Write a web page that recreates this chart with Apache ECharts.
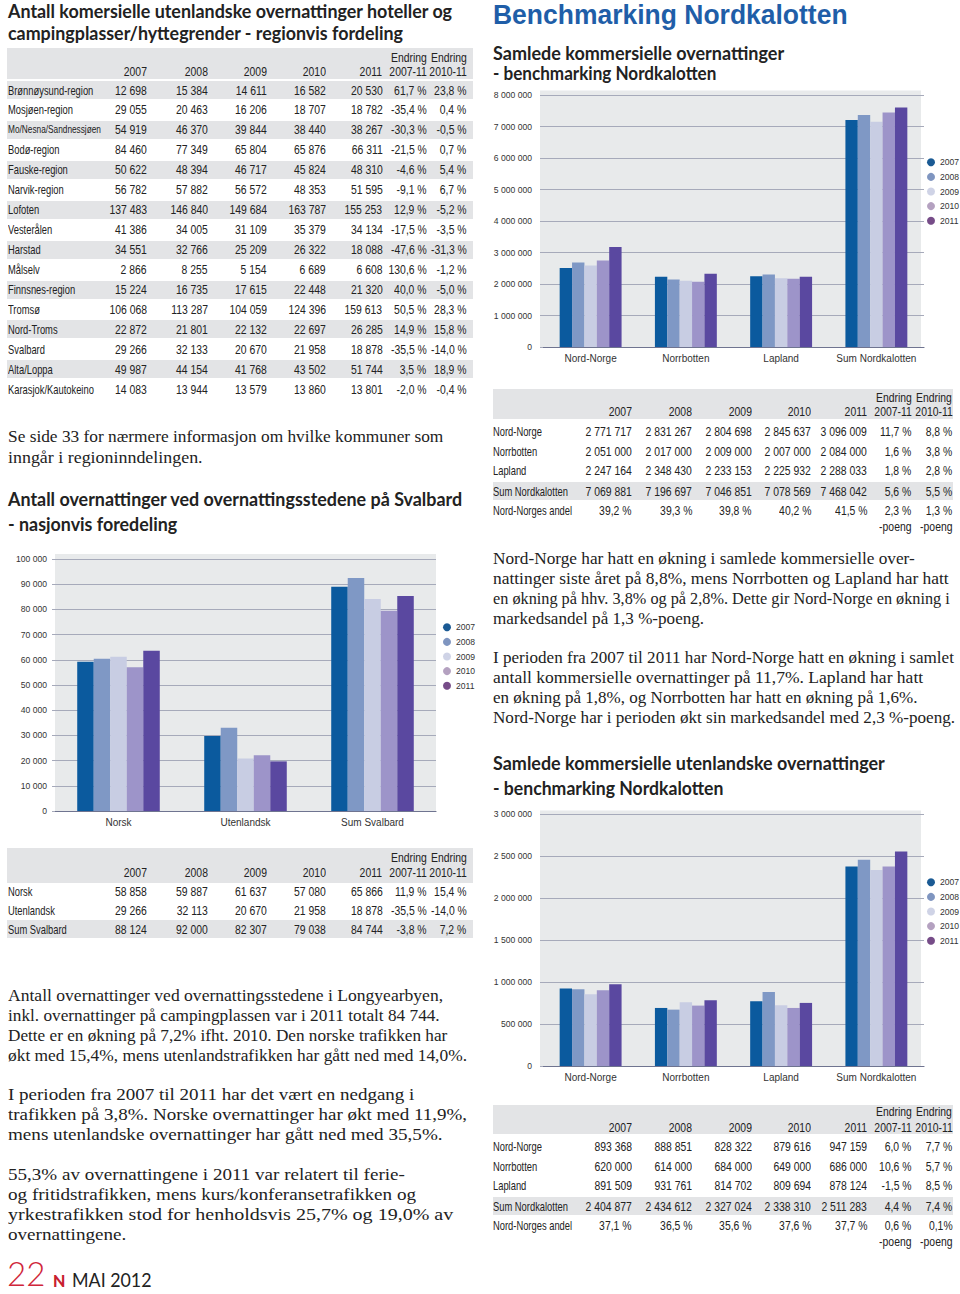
<!DOCTYPE html>
<html><head><meta charset="utf-8">
<script src="https://cdn.jsdelivr.net/npm/echarts@6/dist/echarts.min.js"></script>
<style>
body{margin:0;background:#fff;}
#page{position:relative;width:960px;height:1294px;overflow:hidden;background:#fff}
#chart{position:absolute;left:0;top:0;width:960px;height:1294px}
#txt{position:absolute;left:0;top:0;width:960px;height:1294px}
.t{position:absolute;white-space:nowrap;color:#222}
.t span{display:inline-block;white-space:nowrap}
.cond{font-family:'Liberation Sans',Arial,sans-serif}
.head{font-family:'Lato','Liberation Sans',sans-serif;font-weight:bold}
.big{font-family:'Liberation Sans',Arial,sans-serif;font-weight:bold}
.serif{font-family:'Liberation Serif','DejaVu Serif',serif}
.band{position:absolute;background:#e3e4e6}
</style></head>
<body>
<div id="page"><div id="chart"></div><div id="txt"></div></div>
<script>
// ---------- chart data ----------
const years = ['2007','2008','2009','2010','2011'];

const svalCats = ['Norsk','Utenlandsk','Sum Svalbard'];
const svalBars2007 = [59200, 29800, 89000];
const svalBars2008 = [60400, 33000, 92500];
const svalBars2009 = [61200, 20800, 84100];
const svalBars2010 = [57000, 22100, 79500];
const svalBars2011 = [63600, 19700, 85300];

const nordCats = ['Nord-Norge','Norrbotten','Lapland','Sum Nordkalotten'];
const totBars2007 = [2504000, 2228000, 2249000, 7204000];
const totBars2008 = [2684000, 2143000, 2302000, 7363000];
const totBars2009 = [2589000, 2101000, 2186000, 7151000];
const totBars2010 = [2748000, 2069000, 2164000, 7448000];
const totBars2011 = [3172000, 2324000, 2228000, 7607000];

const utlBars2007 = [922000, 691000, 771000, 2376000];
const utlBars2008 = [914000, 671000, 882000, 2455000];
const utlBars2009 = [854000, 759000, 723000, 2332000];
const utlBars2010 = [902000, 719000, 691000, 2376000];
const utlBars2011 = [973000, 783000, 751000, 2555000];

// ---------- table data ----------
const regions = ['Brønnøysund-region','Mosjøen-region','Mo/Nesna/Sandnessjøen','Bodø-region','Fauske-region','Narvik-region','Lofoten','Vesterålen','Harstad','Målselv','Finnsnes-region','Tromsø','Nord-Troms','Svalbard','Alta/Loppa','Karasjok/Kautokeino'];
const reg2007 = [12698,29055,54919,84460,50622,56782,137483,41386,34551,2866,15224,106068,22872,29266,49987,14083];
const reg2008 = [15384,20463,46370,77349,48394,57882,146840,34005,32766,8255,16735,113287,21801,32133,44154,13944];
const reg2009 = [14611,16206,39844,65804,46717,56572,149684,31109,25209,5154,17615,104059,22132,20670,41768,13579];
const reg2010 = [16582,18707,38440,65876,45824,48353,163787,35379,26322,6689,22448,124396,22697,21958,43502,13860];
const reg2011 = [20530,18782,38267,66311,48310,51595,155253,34134,18088,6608,21320,159613,26285,18878,51744,13801];
const regChg0711 = [61.7,-35.4,-30.3,-21.5,-4.6,-9.1,12.9,-17.5,-47.6,130.6,40.0,50.5,14.9,-35.5,3.5,-2.0];
const regChg1011 = [23.8,0.4,-0.5,0.7,5.4,6.7,-5.2,-3.5,-31.3,-1.2,-5.0,28.3,15.8,-14.0,18.9,-0.4];

const svalRows = ['Norsk','Utenlandsk','Sum Svalbard'];
const sval2007 = [58858,29266,88124];
const sval2008 = [59887,32113,92000];
const sval2009 = [61637,20670,82307];
const sval2010 = [57080,21958,79038];
const sval2011 = [65866,18878,84744];
const svalChg0711 = [11.9,-35.5,-3.8];
const svalChg1011 = [15.4,-14.0,7.2];

const totRows = ['Nord-Norge','Norrbotten','Lapland','Sum Nordkalotten'];
const tot2007 = [2771717,2051000,2247164,7069881];
const tot2008 = [2831267,2017000,2348430,7196697];
const tot2009 = [2804698,2009000,2233153,7046851];
const tot2010 = [2845637,2007000,2225932,7078569];
const tot2011 = [3096009,2084000,2288033,7468042];
const totChg0711 = [11.7,1.6,1.8,5.6];
const totChg1011 = [8.8,3.8,2.8,5.5];
const totShare = ['39,2 %','39,3 %','39,8 %','40,2 %','41,5 %','2,3 %','1,3 %'];

const utlRows = ['Nord-Norge','Norrbotten','Lapland','Sum Nordkalotten'];
const utl2007 = [893368,620000,891509,2404877];
const utl2008 = [888851,614000,931761,2434612];
const utl2009 = [828322,684000,814702,2327024];
const utl2010 = [879616,649000,809694,2338310];
const utl2011 = [947159,686000,878124,2511283];
const utlChg0711 = [6.0,10.6,-1.5,4.4];
const utlChg1011 = [7.7,5.7,8.5,7.4];
const utlShare = ['37,1 %','36,5 %','35,6 %','37,6 %','37,7 %','0,6 %','0,1%'];

// ---------- helpers ----------
const fmtN = v => String(v).replace(/\B(?=(\d{3})+(?!\d))/g, ' ');
const fmtP = v => v.toFixed(1).replace('.', ',') + ' %';
const layer = document.getElementById('txt');

function put(str, x, cy, o) {
  o = o || {};
  const cls = o.cls || 'cond';
  const d = document.createElement('div');
  d.className = 't ' + cls;
  const fs = o.size || 13;
  const lh = o.lh || fs;
  let sx = o.sx != null ? o.sx : (cls === 'cond' ? 0.8 : 1);
  d.style.fontSize = fs + 'px';
  d.style.lineHeight = lh + 'px';
  d.style.top = (cy - lh / 2) + 'px';
  const s = document.createElement('span');
  s.textContent = str;
  if (o.align === 'right') {
    d.style.left = (x - 300) + 'px'; d.style.width = '300px'; d.style.textAlign = 'right';
    s.style.transformOrigin = 'right center';
  } else {
    d.style.left = x + 'px';
    s.style.transformOrigin = 'left center';
  }
  if (o.weight) d.style.fontWeight = o.weight;
  if (o.color) d.style.color = o.color;
  d.appendChild(s);
  layer.appendChild(d);
  if (o.right != null) sx = (o.right - x) / s.offsetWidth;   // fit to the reference line length
  if (sx !== 1) s.style.transform = 'scaleX(' + sx + ')';
  return s;
}
function band(x, y, w, h) {
  const d = document.createElement('div');
  d.className = 'band';
  d.style.left = x + 'px'; d.style.top = y + 'px'; d.style.width = w + 'px'; d.style.height = h + 'px';
  layer.appendChild(d);
}
function header(colR, yE, yY, bandX, bandW, bandTop, bandH) {
  band(bandX, bandTop, bandW, bandH);
  years.forEach((y, i) => put(y, colR[i], yY, { align: 'right' }));
  put('Endring', colR[5], yE, { align: 'right' });
  put('Endring', colR[6], yE, { align: 'right' });
  put('2007-11', colR[5], yY, { align: 'right' });
  put('2010-11', colR[6], yY, { align: 'right' });
}
function rowsOut(labels, cols, colR, labelX, centers, labelSizes) {
  labels.forEach((lab, r) => {
    put(lab, labelX, centers[r], { size: (labelSizes && labelSizes[r]) || 13, sx: 0.72 });
    cols.forEach((col, c) => {
      const v = col[r];
      put(c < 5 ? fmtN(v) : fmtP(v), colR[c], centers[r], { align: 'right' });
    });
  });
}

// ---------- left column ----------
put('Antall komersielle utenlandske overnattinger hoteller og', 8, 11.5, { cls: 'head', size: 18.5, right: 452 });
put('campingplasser/hyttegrender  - regionvis fordeling', 8, 33.5, { cls: 'head', size: 18.5, sx: 0.965 });

const colL = [146.7, 207.7, 266.7, 325.7, 382.3, 426.7, 466.7];
header(colL, 57, 71, 7, 466, 48, 31);
const regCenters = regions.map((_, i) => 90 + i * 19.95);
regCenters.forEach((c, i) => { if (i % 2 === 0) band(7, c - 9, 466, 18); });
rowsOut(regions, [reg2007, reg2008, reg2009, reg2010, reg2011, regChg0711, regChg1011], colL, 8, regCenters,
  regions.map(r => r.length > 20 ? 11.5 : 13));

put('Se side 33 for nærmere informasjon om hvilke kommuner som', 8, 436, { cls: 'serif', size: 17, right: 443 });
put('inngår i regioninndelingen.', 8, 457, { cls: 'serif', size: 17, right: 203 });

put('Antall overnattinger ved overnattingsstedene på Svalbard', 8, 499.5, { cls: 'head', size: 18.5, right: 462 });
put('- nasjonvis foredeling', 8, 524.5, { cls: 'head', size: 18.5, sx: 0.965 });

header(colL, 857, 872, 7, 466, 848, 35);
band(7, 920, 466, 18);
rowsOut(svalRows, [sval2007, sval2008, sval2009, sval2010, sval2011, svalChg0711, svalChg1011], colL, 8, [891.5, 910.5, 929]);

// paragraph lines: text, centre y, right end of the line in the reference
const leftPara = [
  ['Antall overnattinger ved overnattingsstedene i Longyearbyen,', 995, 443],
  ['inkl. overnattinger på campingplassen var i 2011 totalt 84 744.', 1015, 440],
  ['Dette er en økning på 7,2% ifht. 2010. Den norske trafikken har', 1035, 447],
  ['økt med 15,4%, mens utenlandstrafikken har gått ned med 14,0%.', 1055, 467],
  ['I perioden fra 2007 til 2011 har det vært en nedgang i', 1094, 414],
  ['trafikken på 3,8%. Norske overnattinger har økt med 11,9%,', 1114, 467],
  ['mens utenlandske overnattinger har gått ned med 35,5%.', 1134, 443],
  ['55,3% av overnattingene i 2011 var relatert til ferie-', 1174, 405],
  ['og fritidstrafikken, mens kurs/konferansetrafikken og', 1194, 416],
  ['yrkestrafikken stod for henholdsvis 25,7% og 19,0% av', 1214, 453],
  ['overnattingene.', 1234, 126]
];
leftPara.forEach(([s, y, r]) => put(s, 8, y, { cls: 'serif', size: 17, right: r }));

put('22', 7, 1273, { cls: 'head', size: 34, weight: 300, color: '#d0263a', right: 45 });
put('N', 53, 1280.5, { cls: 'head', size: 16, weight: 900, color: '#c8202f' });
put('MAI 2012', 72, 1280.5, { cls: 'head', size: 18.5, weight: 400, color: '#222', right: 152 });

// ---------- right column ----------
put('Benchmarking Nordkalotten', 493, 15.2, { cls: 'big', size: 27, lh: 30, color: '#1f5ea8', right: 848 });
put('Samlede kommersielle overnattinger', 493, 52.5, { cls: 'head', size: 18, right: 784 });
put('- benchmarking Nordkalotten', 493, 72.5, { cls: 'head', size: 18, right: 716 });

const colR = [631.7, 692.3, 751.7, 811, 867.3, 911.7, 952.3];
header(colR, 397, 411.5, 493, 460, 389, 30);
band(493, 482, 460, 18);
rowsOut(totRows, [tot2007, tot2008, tot2009, tot2010, tot2011, totChg0711, totChg1011], colR, 493, [431.7, 451.7, 470.7, 491]);
put('Nord-Norges andel', 493, 510.7, { sx: 0.72 });
totShare.forEach((s, i) => put(s, colR[i], 510.7, { align: 'right' }));
put('-poeng', colR[5], 526.7, { align: 'right' });
put('-poeng', colR[6], 526.7, { align: 'right' });

const rightPara = [
  ['Nord-Norge har hatt en økning i samlede kommersielle over-', 558, 915],
  ['nattinger siste året på 8,8%, mens Norrbotten og Lapland har hatt', 578, 949],
  ['en økning på hhv. 3,8% og på 2,8%. Dette gir Nord-Norge en økning i', 598, 950],
  ['markedsandel på 1,3 %-poeng.', 618, 704],
  ['I perioden fra 2007 til 2011 har Nord-Norge hatt en økning i samlet', 657, 954],
  ['antall kommersielle overnattinger på 11,7%. Lapland har hatt', 677, 923],
  ['en økning på 1,8%, og Norrbotten har hatt en økning på 1,6%.', 697, 918],
  ['Nord-Norge har i perioden økt sin markedsandel med 2,3 %-poeng.', 717, 955]
];
rightPara.forEach(([s, y, r]) => put(s, 493, y, { cls: 'serif', size: 17, right: r }));

put('Samlede kommersielle utenlandske overnattinger', 493, 763, { cls: 'head', size: 18, right: 885 });
put('- benchmarking Nordkalotten', 493, 788, { cls: 'head', size: 18, right: 723 });

header(colR, 1111, 1127, 493, 460, 1105, 29);
band(493, 1197, 460, 18);
rowsOut(utlRows, [utl2007, utl2008, utl2009, utl2010, utl2011, utlChg0711, utlChg1011], colR, 493, [1146.7, 1166.3, 1185.7, 1206]);
put('Nord-Norges andel', 493, 1225.7, { sx: 0.72 });
utlShare.forEach((s, i) => put(s, colR[i], 1225.7, { align: 'right' }));
put('-poeng', colR[5], 1241.7, { align: 'right' });
put('-poeng', colR[6], 1241.7, { align: 'right' });

// ---------- charts ----------
const barColors = ['#0b5a9e', '#7f98c5', '#c8cde3', '#9d94c9', '#5a48a0'];
const legendColors = ['#1a5a94', '#7f95c0', '#cfd3e6', '#b4a1c0', '#764c88'];
const regular = "'Liberation Sans',Arial,sans-serif";

function barSeries(idx, arrs) {
  return years.map((y, i) => ({
    type: 'bar', name: y, xAxisIndex: idx, yAxisIndex: idx, data: arrs[i],
    itemStyle: { color: barColors[i] }, barGap: '0%', barCategoryGap: '35%', z: 3
  }));
}
function xA(idx, cats) {
  return { type: 'category', gridIndex: idx, data: cats,
    axisLine: { lineStyle: { color: '#6f7490', width: 1.2 } }, axisTick: { show: false },
    axisLabel: { interval: 0, fontFamily: regular, fontSize: 10, color: '#333', margin: 6 } };
}
function yA(idx, max, interval, margin) {
  return { type: 'value', gridIndex: idx, min: 0, max: max, interval: interval,
    axisLine: { show: false },
    axisTick: { show: true, length: 3, lineStyle: { color: '#a6aaba' } },
    splitLine: { lineStyle: { color: '#a6aaba', width: 1 } },
    axisLabel: { fontFamily: regular, fontSize: 8.6, color: '#333', margin: margin, formatter: v => fmtN(v) } };
}
function leg(left, top) {
  return { orient: 'vertical', left: left, top: top, icon: 'circle', itemWidth: 8, itemHeight: 8,
    itemGap: 0, selectedMode: false, padding: 0,
    textStyle: { fontFamily: regular, fontSize: 8.6, color: '#333', lineHeight: 14.6 },
    data: years.map((y, i) => ({ name: y, itemStyle: { color: legendColors[i] } })) };
}

const chart = echarts.init(document.getElementById('chart'), null, { renderer: 'svg' });
chart.setOption({
  animation: false,
  graphic: [
    { type: 'rect', shape: { x: 55, y: 554, width: 381, height: 257 }, style: { fill: '#e8eaeb' }, z: -10, silent: true },
    { type: 'rect', shape: { x: 540, y: 90.5, width: 381, height: 256.5 }, style: { fill: '#e8eaeb' }, z: -10, silent: true },
    { type: 'rect', shape: { x: 540, y: 810.5, width: 381, height: 255.5 }, style: { fill: '#e8eaeb' }, z: -10, silent: true }
  ],
  grid: [
    { left: 55, top: 559, width: 381, height: 252 },
    { left: 543, top: 95, width: 381, height: 252 },
    { left: 543, top: 814, width: 381, height: 252 }
  ],
  xAxis: [xA(0, svalCats), xA(1, nordCats), xA(2, nordCats)],
  yAxis: [yA(0, 100000, 10000, 8), yA(1, 8000000, 1000000, 11), yA(2, 3000000, 500000, 11)],
  legend: [leg(443, 620), leg(927, 155), leg(927, 875)],
  series: [].concat(
    barSeries(0, [svalBars2007, svalBars2008, svalBars2009, svalBars2010, svalBars2011]),
    barSeries(1, [totBars2007, totBars2008, totBars2009, totBars2010, totBars2011]),
    barSeries(2, [utlBars2007, utlBars2008, utlBars2009, utlBars2010, utlBars2011])
  )
});
</script>
</body></html>
